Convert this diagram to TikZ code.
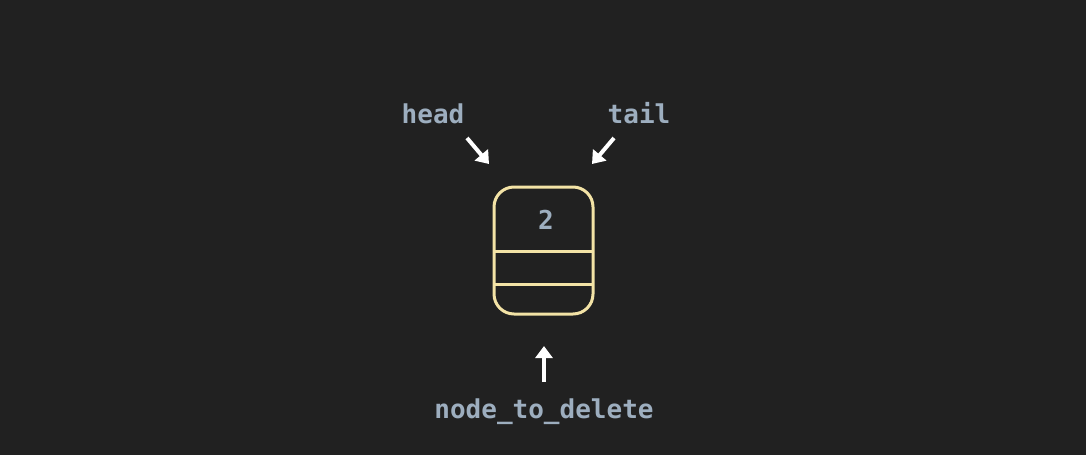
\documentclass[tikz,border=0pt]{standalone}
\usepackage{fontspec}
\setmonofont{DejaVu Sans Mono}
\usetikzlibrary{arrows.meta}
\definecolor{bg}{HTML}{212121}
\definecolor{txt}{HTML}{9DAEBF}
\definecolor{boxc}{HTML}{F3E3A6}
\tikzset{
  lbl/.style={text=txt,font=\ttfamily\bfseries\fontsize{26}{30}\selectfont,inner sep=0pt,anchor=base},
  ptr/.style={white,line width=4pt,-{Triangle[length=12pt,width=17pt]}},
  cell/.style={boxc,line width=3pt}
}
\begin{document}
\begin{tikzpicture}[x=1pt,y=-1pt]
\fill[bg] (0,0) rectangle (1086,455);
\useasboundingbox (0,0) rectangle (1086,455);
% box
\draw[cell,rounded corners=20pt] (494,187) rectangle (593,314);
\draw[cell] (494,251) -- (593,251);
\draw[cell] (494,284) -- (593,284);
\node[lbl] (val) at (546,229) {2};
% labels
\node[lbl] (head) at (433,123) {head};
\node[lbl] (tail) at (639,123) {tail};
\node[lbl] (ntd) at (544,418) {node\_to\_delete};
% arrows
\coordinate (hs) at (467,138);
\coordinate (he) at (489,164);
\coordinate (ts) at (614,138);
\coordinate (te) at (592,164);
\coordinate (bs) at (544,382);
\coordinate (be) at (544,346);
\draw[ptr] (hs) -- (he);
\draw[ptr] (ts) -- (te);
\draw[ptr] (bs) -- (be);
\end{tikzpicture}
\end{document}
